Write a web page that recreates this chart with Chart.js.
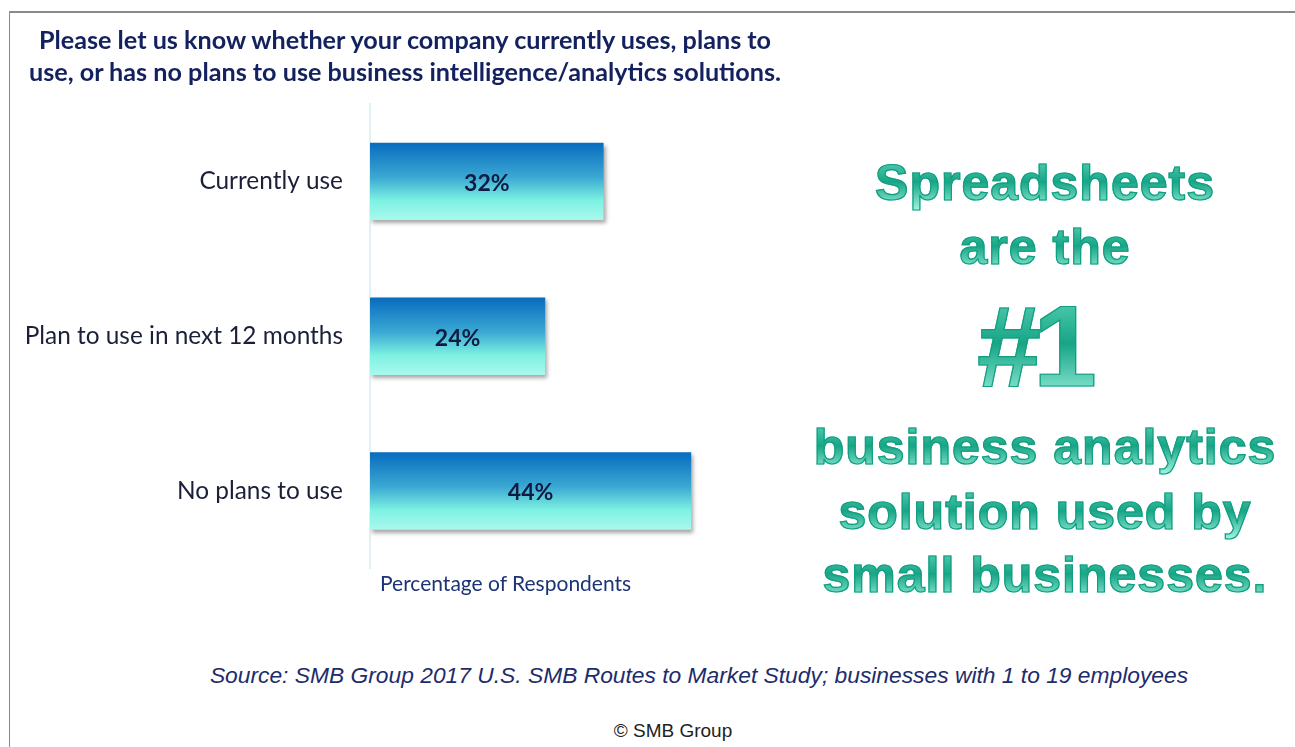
<!DOCTYPE html>
<html>
<head>
<meta charset="utf-8">
<script src="https://cdn.jsdelivr.net/npm/chart.js@4.4.1/dist/chart.umd.min.js"></script>
<style>
  html, body { margin:0; padding:0; background:#fff; width:1295px; height:747px; overflow:hidden; }
  #frame { position:absolute; left:9px; top:11px; width:1300px; height:760px; border-top:2px solid #8a8a8a; border-left:1px solid #8a8a8a; }
  #wrap { position:absolute; left:0; top:0; width:820px; height:610px; }
  .t { position:absolute; white-space:nowrap; }
  #title { left:20px; top:23px; width:770px; text-align:center; font-family:Lato, sans-serif; font-weight:bold; font-size:25.2px; line-height:32px; color:#13215e; }
  #xtitle { left:380px; top:570px; font-family:Lato, sans-serif; font-size:21px; color:#1c3476; }
  .big { font-family:"Liberation Sans", Arial, sans-serif; font-weight:bold; text-align:center; left:800px; width:490px;
         background:linear-gradient(to bottom, #63d6bb 0%, #17a586 48%, #a4f7e3 100%);
         -webkit-background-clip:text; background-clip:text; color:transparent;
         -webkit-text-stroke:1.2px #129f80; letter-spacing:1px; }
  #source { left:0; width:1398px; text-align:center; top:662px; font-family:"Liberation Sans", Arial, sans-serif; font-style:italic; font-size:22.8px; color:#1d2c6c; }
  #copy { left:0; width:1346px; text-align:center; top:720px; font-family:"Liberation Sans", Arial, sans-serif; font-size:19px; color:#222; }
</style>
</head>
<body>
<div id="frame"></div>
<div id="wrap"><canvas id="c"></canvas></div>
<div class="t" id="title">Please let us know whether your company currently uses, plans to<br>use, or has no plans to use business intelligence/analytics solutions.</div>
<div class="t" id="xtitle">Percentage of Respondents</div>
<div class="t big" style="top:155px;font-size:50px;line-height:56px;">Spreadsheets</div>
<div class="t big" style="top:219px;font-size:50px;line-height:56px;">are the</div>
<div class="t big" style="top:285px;left:788px;font-size:115px;line-height:122px;letter-spacing:-8px;">#1</div>
<div class="t big" style="top:419px;font-size:50px;line-height:56px;">business analytics</div>
<div class="t big" style="top:484px;font-size:50px;line-height:56px;">solution used by</div>
<div class="t big" style="top:547px;font-size:50px;line-height:56px;">small businesses.</div>
<div class="t" id="source">Source: SMB Group 2017 U.S. SMB Routes to Market Study; businesses with 1 to 19 employees</div>
<div class="t" id="copy">© SMB Group</div>
<script>
const categories = ["Currently use", "Plan to use in next 12 months", "No plans to use"];
const values = [32, 24, 44];
const valueLabels = ["32%", "24%", "44%"];

const shadowPlugin = {
  id: 'shadow',
  beforeDatasetsDraw(chart) {
    const ctx = chart.ctx;
    ctx.save();
    ctx.shadowColor = 'rgba(0,0,0,0.35)';
    ctx.shadowBlur = 4;
    ctx.shadowOffsetX = 2;
    ctx.shadowOffsetY = 3;
  },
  afterDatasetsDraw(chart) {
    const ctx = chart.ctx;
    ctx.restore();
    const meta = chart.getDatasetMeta(0);
    ctx.save();
    ctx.font = 'bold 23px Lato, sans-serif';
    ctx.fillStyle = '#0e1c42';
    ctx.textAlign = 'center';
    ctx.textBaseline = 'middle';
    meta.data.forEach((bar, i) => {
      const x = (bar.x + bar.base) / 2;
      ctx.fillText(valueLabels[i], x, bar.y + 2);
    });
    ctx.restore();
  }
};

function barGradient(context) {
  const chart = context.chart;
  const area = chart.chartArea;
  if (!area) return '#40b0d0';
  const ys = chart.scales.y;
  const idx = context.dataIndex;
  const cy = ys.getPixelForValue(idx);
  const step = (ys.bottom - ys.top) / categories.length;
  const h = step * 0.5;
  const g = chart.ctx.createLinearGradient(0, cy - h / 2, 0, cy + h / 2);
  g.addColorStop(0, '#086bbf');
  g.addColorStop(0.45, '#3ba9d3');
  g.addColorStop(0.75, '#7ef2e2');
  g.addColorStop(1, '#a9f8ee');
  return g;
}

new Chart(document.getElementById('c'), {
  type: 'bar',
  data: {
    labels: categories,
    datasets: [{
      data: values,
      backgroundColor: barGradient,
      borderWidth: 0,
      barPercentage: 0.5,
      categoryPercentage: 1.0
    }]
  },
  options: {
    indexAxis: 'y',
    responsive: true,
    maintainAspectRatio: false,
    animation: false,
    layout: { padding: { left: 0, right: 12, top: 104, bottom: 32 } },
    plugins: { legend: { display: false }, tooltip: { enabled: false } },
    scales: {
      x: { display: false, min: 0, max: 60 },
      y: {
        afterFit(scale) { scale.width = 370; },
        grid: { display: false, drawTicks: false },
        border: { display: true, color: '#dff3f4', width: 2 },
        ticks: { padding: 27, color: '#1b2038', font: { family: 'Lato, sans-serif', size: 24.4 } }
      }
    }
  },
  plugins: [shadowPlugin]
});
</script>
</body>
</html>
